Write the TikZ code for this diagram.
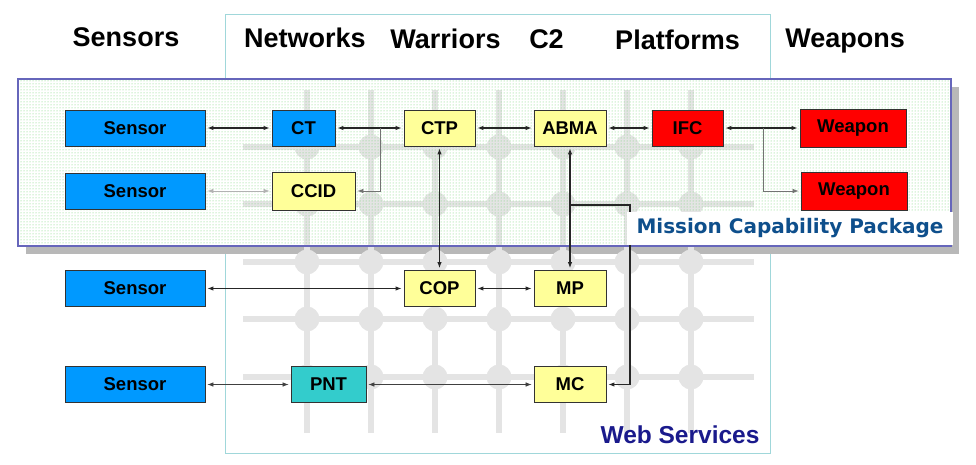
\documentclass[tikz,border=0pt]{standalone}
\usepackage{fontspec}
\setmainfont{Liberation Sans}
\newfontfamily\mcpfont{DejaVu Sans}
\usetikzlibrary{arrows.meta,patterns,positioning}

\definecolor{sensorblue}{RGB}{0,153,255}
\definecolor{paleyellow}{RGB}{255,255,153}
\definecolor{weaponred}{RGB}{255,0,0}
\definecolor{pntteal}{RGB}{51,204,204}
\definecolor{wsline}{RGB}{160,215,218}
\definecolor{mcpline}{RGB}{102,102,187}
\definecolor{mcptext}{RGB}{14,79,140}
\definecolor{wstext}{RGB}{26,26,140}
\definecolor{gridgray}{RGB}{228,228,228}
\definecolor{dotgreen}{RGB}{110,210,110}

\begin{document}
\begin{tikzpicture}[x=1pt,y=-1pt,
    unit/.style={draw=black!80,line width=0.8pt,inner sep=0pt,minimum height=36pt,
                 font=\fontsize{18.5}{21}\selectfont\bfseries},
    sensorbox/.style={unit,fill=sensorblue,minimum width=140pt},
    c2box/.style={unit,fill=paleyellow,minimum width=72pt},
    weaponbox/.style={unit,fill=weaponred,minimum width=106pt,minimum height=38pt},
    header/.style={font=\fontsize{27}{30}\selectfont\bfseries},
    link/.style={{Latex[length=6pt,width=4.5pt]}-{Latex[length=6pt,width=4.5pt]},
                 line width=1.1pt,black!85,shorten <=2pt,shorten >=2pt},
    thinlink/.style={link,line width=0.7pt,black!55},
    feed/.style={-{Latex[length=6pt,width=4.5pt]},line width=0.7pt,black!55,shorten >=2pt}]
  \useasboundingbox (0,0) rectangle (976,465);

  % web services frame
  \draw[wsline,line width=1pt] (225,15) rectangle (770,453);

  % mission capability package frame
  \fill[black!28] (26,87) rectangle (959,254);
  \fill[white] (18,79) rectangle (951,246);

  % service grid
  \foreach \gx in {307,371,435,499,563,627,691}
    \draw[gridgray,line width=6pt] (\gx,90) -- (\gx,433);
  \foreach \gy in {147,204,262,319,377}
    \draw[gridgray,line width=6pt] (243,\gy) -- (754,\gy);
  \foreach \gx in {307,371,435,499,563,627,691}
    \foreach \gy in {147,204,262,319,377}
      \fill[gridgray] (\gx,\gy) circle (12.5);

  \fill[pattern=dots,pattern color=dotgreen] (18,79) rectangle (951,246);
  \draw[mcpline,line width=1.5pt] (18,79) rectangle (951,246);

  % column headers
  \node[header] (hsen) at (126,37) {Sensors};
  \node[header] (hnet) at (305,38) {Networks};
  \node[header] (hwar) at (445.5,39) {Warriors};
  \node[header] (hc2)  at (546.5,39) {C2};
  \node[header] (hpla) at (677.5,40) {Platforms};
  \node[header] (hwea) at (845,41) {Weapons};

  % units
  \node[sensorbox] (s1) at (135,128) {Sensor};
  \node[unit,fill=sensorblue,minimum width=63pt] (ct) at (303.5,128) {CT};
  \node[c2box,minimum width=71pt] (ctp) at (439.5,128) {CTP};
  \node[c2box] (abma) at (570,128) {ABMA};
  \node[unit,fill=weaponred,minimum width=71pt] (ifc) at (687.5,128) {IFC};
  \node[weaponbox] (w1) at (853,128) {Weapon};

  \node[sensorbox] (s2) at (135,191) {Sensor};
  \node[c2box,minimum width=83pt,minimum height=38pt] (ccid) at (313.5,191) {CCID};
  \node[weaponbox] (w2) at (854,191) {Weapon};

  \node[sensorbox] (s3) at (135,288.5) {Sensor};
  \node[c2box,minimum width=71pt] (cop) at (439.5,288.5) {COP};
  \node[c2box] (mp) at (570,288.5) {MP};

  \node[sensorbox] (s4) at (135,384.5) {Sensor};
  \node[unit,fill=pntteal,minimum width=75pt] (pnt) at (328.5,384.5) {PNT};
  \node[c2box] (mc) at (570,384.5) {MC};

  % branch points
  \coordinate (jc) at (380,128);
  \coordinate (jw) at (763,128);
  \coordinate (jm) at (570,205);
  \coordinate (jm2) at (630,205);

  \path
    (s1) edge[link] (ct)
    (ct) edge[link] (ctp)
    (ctp) edge[link] (abma)
    (abma) edge[link] (ifc)
    (ifc) edge[link] (w1)
    (s2) edge[thinlink,black!30] (ccid)
    (ctp) edge[link] (cop)
    (abma) edge[link] (mp)
    (s3) edge[link] (cop)
    (cop) edge[link] (mp)
    (s4) edge[thinlink,black!75] (pnt)
    (pnt) edge[thinlink,black!75] (mc);
  \draw[feed] (jc) |- (ccid);
  \draw[feed] (jw) |- (w2);
  \draw[feed,line width=1.1pt,black!85] (jm) -- (jm2) |- (mc);

  % labels
  \node[fill=white,inner sep=0pt,minimum width=326pt,minimum height=33pt,
        text=mcptext,font=\mcpfont\fontsize{20}{24}\selectfont\bfseries] (mcp) at (790,228.5)
        {Mission Capability Package};
  \node[text=wstext,font=\fontsize{24.5}{28}\selectfont\bfseries,anchor=south east] (ws) at (763,447)
        {Web Services};
\end{tikzpicture}
\end{document}
